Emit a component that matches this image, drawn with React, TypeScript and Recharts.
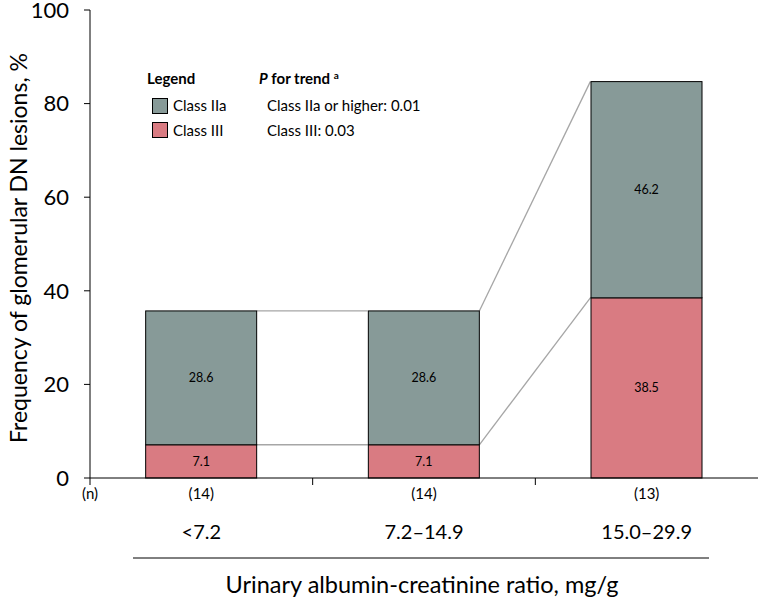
import { BarChart, Bar, XAxis, YAxis, LabelList } from "recharts";

const categories = ["<7.2", "7.2–14.9", "15.0–29.9"];
const nCounts = [14, 14, 13];
const classIII = [7.1, 7.1, 38.5];
const classIIa = [28.6, 28.6, 46.2];
const yTicks = [0, 20, 40, 60, 80, 100];

const rows = categories.map((cat, i) => ({
  cat,
  n: nCounts[i],
  classIII: classIII[i],
  classIIa: classIIa[i],
}));

const FONT = "Lato, 'Open Sans', sans-serif";
const IIA = "#879A98";
const III = "#D97B82";
const LINK = "#A6A6A6";

// bar segment + the excel-style series line to the next bar
function segShape(key: "classIII" | "classIIa") {
  return (props: any) => {
    const { x, y, width, height, index, fill } = props;
    const i = index;
    const low = key === "classIII" ? 0 : classIII[i];
    const ppu = height / (key === "classIII" ? classIII[i] : classIIa[i]);
    const bottom = y + height;
    let link = null;
    if (i < rows.length - 1) {
      const nextTop =
        key === "classIII" ? classIII[i + 1] : classIII[i + 1] + classIIa[i + 1];
      const ny = bottom - (nextTop - low) * ppu;
      link = (
        <line x1={x + width} y1={y} x2={x + 2 * width} y2={ny} stroke={LINK} strokeWidth={1.3} />
      );
    }
    return (
      <g>
        {link}
        <rect x={x} y={y} width={width} height={height} fill={fill} stroke="#000" strokeWidth={1} />
      </g>
    );
  };
}

function XTick(props: any) {
  const { x, y, payload, index } = props;
  const half = payload?.offset ?? 111;
  const i = index ?? categories.indexOf(payload.value);
  return (
    <g>
      {i === 0 && (
        <>
          <line x1={x - half} y1={y} x2={x - half} y2={y + 7} stroke="#000" />
          <text x={x - half} y={y + 21} textAnchor="middle" fontSize={15} fill="#000" fontFamily={FONT}>
            (n)
          </text>
        </>
      )}
      {i < categories.length - 1 && (
        <line x1={x + half} y1={y} x2={x + half} y2={y + 7} stroke="#000" />
      )}
      <text x={x} y={y + 21} textAnchor="middle" fontSize={15} fill="#000" fontFamily={FONT}>
        ({nCounts[i]})
      </text>
      <text x={x} y={y + 61} textAnchor="middle" fontSize={20} fill="#000" fontFamily={FONT}>
        {payload.value}
      </text>
    </g>
  );
}

function XTitle(props: any) {
  const { viewBox } = props;
  const y = viewBox.y;
  return (
    <g>
      <line x1={133} y1={y + 80} x2={709} y2={y + 80} stroke="#000" strokeWidth={1} />
      <text x={422} y={y + 115} textAnchor="middle" fontSize={23.5} fill="#000" fontFamily={FONT}>
        Urinary albumin-creatinine ratio, mg/g
      </text>
    </g>
  );
}

function YTitle(props: any) {
  const { viewBox } = props;
  const cy = viewBox.y + viewBox.height / 2 + 4;
  return (
    <text
      x={18}
      y={cy}
      transform={`rotate(-90, 18, ${cy})`}
      textAnchor="middle"
      dominantBaseline="central"
      fontSize={23}
      fill="#000"
      fontFamily={FONT}
    >
      Frequency of glomerular DN lesions, %
    </text>
  );
}

function LegendBox() {
  return (
    <svg
      width={760}
      height={599}
      style={{ position: "absolute", left: 0, top: 0, pointerEvents: "none" }}
      fontFamily={FONT}
    >
      <text x={147} y={84} fontSize={15} fontWeight="bold" fill="#000">
        Legend
      </text>
      <rect x={152.5} y={98.5} width={15} height={15} fill={IIA} stroke="#000" />
      <text x={173} y={111} fontSize={15} fill="#000">
        Class IIa
      </text>
      <rect x={152.5} y={122.5} width={15} height={15} fill={III} stroke="#000" />
      <text x={173} y={136} fontSize={15} fill="#000">
        Class III
      </text>
      <text x={259} y={84} fontSize={15} fontWeight="bold" fill="#000">
        <tspan fontStyle="italic">P</tspan> for trend{" "}
        <tspan fontSize={10} dy={-5}>
          a
        </tspan>
      </text>
      <text x={267} y={111} fontSize={15} fill="#000">
        Class IIa or higher: 0.01
      </text>
      <text x={267} y={136} fontSize={15} fill="#000">
        Class III: 0.03
      </text>
    </svg>
  );
}

export default function App() {
  return (
    <div style={{ position: "absolute", left: 0, top: 0, width: 760, height: 599, background: "#fff" }}>
      <BarChart
        width={760}
        height={599}
        data={rows}
        margin={{ top: 10, right: 2, left: 0, bottom: 0 }}
        barCategoryGap="25%"
        style={{ fontFamily: FONT }}
      >
        <XAxis
          dataKey="cat"
          type="category"
          height={121}
          tickSize={0}
          tickMargin={0}
          tickLine={false}
          axisLine={{ stroke: "#000" }}
          tick={<XTick />}
          interval={0}
          label={<XTitle />}
        />
        <YAxis
          width={90}
          domain={[0, 100]}
          ticks={yTicks}
          interval={0}
          tickSize={6}
          tickMargin={15}
          axisLine={{ stroke: "#000" }}
          tickLine={{ stroke: "#000" }}
          tick={{ fontSize: 22, fill: "#000", fontFamily: FONT }}
          label={<YTitle />}
        />
        <Bar dataKey="classIII" stackId="a" fill={III} isAnimationActive={false} shape={segShape("classIII")}>
          <LabelList
            dataKey="classIII"
            position="center"
            fontSize={12.5}
            fill="#000"
            fontFamily={FONT}
            formatter={(v: any) => Number(v).toFixed(1)}
          />
        </Bar>
        <Bar dataKey="classIIa" stackId="a" fill={IIA} isAnimationActive={false} shape={segShape("classIIa")}>
          <LabelList
            dataKey="classIIa"
            position="center"
            fontSize={12.5}
            fill="#000"
            fontFamily={FONT}
            formatter={(v: any) => Number(v).toFixed(1)}
          />
        </Bar>
      </BarChart>
      <LegendBox />
    </div>
  );
}
